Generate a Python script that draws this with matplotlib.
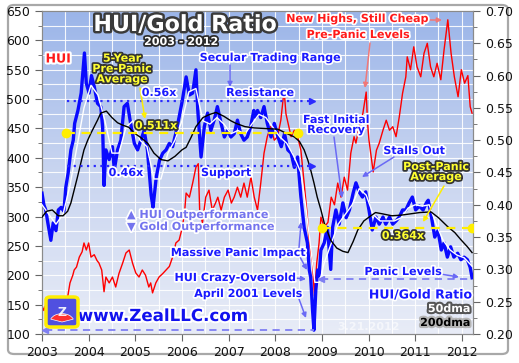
import numpy as np
import matplotlib
matplotlib.use('Agg')
import matplotlib.pyplot as plt
import matplotlib.patheffects as pe
from matplotlib.patches import FancyBboxPatch, Wedge
from matplotlib.ticker import MultipleLocator, FormatStrFormatter
from matplotlib.colors import LinearSegmentedColormap

# ---------------- data (decimal years) ----------------
ratio_x = [2003.00, 2003.04, 2003.08, 2003.13, 2003.19, 2003.24, 2003.30, 2003.35, 2003.41, 2003.47,
           2003.51, 2003.56, 2003.62, 2003.67, 2003.70, 2003.77, 2003.84, 2003.91, 2003.95, 2004.01,
           2004.06, 2004.12, 2004.19, 2004.26, 2004.30, 2004.33, 2004.37, 2004.44, 2004.51, 2004.55,
           2004.62, 2004.69, 2004.76, 2004.83, 2004.90, 2004.98, 2005.05, 2005.12, 2005.19, 2005.26,
           2005.30, 2005.34, 2005.38, 2005.45, 2005.52, 2005.59, 2005.66, 2005.73, 2005.80, 2005.87,
           2005.94, 2006.01, 2006.09, 2006.16, 2006.23, 2006.30, 2006.34, 2006.41, 2006.48, 2006.55,
           2006.62, 2006.69, 2006.76, 2006.84, 2006.91, 2006.98, 2007.05, 2007.12, 2007.19, 2007.26,
           2007.33, 2007.40, 2007.47, 2007.54, 2007.58, 2007.62, 2007.69, 2007.76, 2007.83, 2007.91,
           2007.98, 2008.06, 2008.13, 2008.20, 2008.27, 2008.34, 2008.41, 2008.48, 2008.55, 2008.62,
           2008.69, 2008.73, 2008.76, 2008.80, 2008.83, 2008.87, 2008.91, 2008.94, 2008.98, 2009.05,
           2009.12, 2009.19, 2009.23, 2009.30, 2009.37, 2009.45, 2009.52, 2009.59, 2009.67, 2009.73,
           2009.80, 2009.87, 2009.94, 2010.01, 2010.08, 2010.16, 2010.23, 2010.31, 2010.37, 2010.45,
           2010.52, 2010.59, 2010.66, 2010.73, 2010.80, 2010.87, 2010.94, 2011.01, 2011.09, 2011.17,
           2011.24, 2011.28, 2011.35, 2011.42, 2011.49, 2011.56, 2011.62, 2011.69, 2011.76, 2011.83,
           2011.91, 2011.98, 2012.05, 2012.12, 2012.18, 2012.22]
ratio_y = [0.418, 0.400, 0.392, 0.370, 0.345, 0.372, 0.360, 0.392, 0.396, 0.390,
           0.427, 0.449, 0.485, 0.500, 0.526, 0.546, 0.573, 0.635, 0.588, 0.573,
           0.600, 0.583, 0.557, 0.552, 0.520, 0.430, 0.485, 0.470, 0.490, 0.454,
           0.485, 0.500, 0.552, 0.557, 0.526, 0.495, 0.485, 0.500, 0.515, 0.485,
           0.450, 0.415, 0.396, 0.443, 0.469, 0.480, 0.485, 0.495, 0.490, 0.511,
           0.536, 0.562, 0.598, 0.570, 0.573, 0.609, 0.546, 0.474, 0.521, 0.542,
           0.515, 0.531, 0.552, 0.526, 0.505, 0.515, 0.505, 0.510, 0.531, 0.510,
           0.500, 0.505, 0.520, 0.546, 0.535, 0.546, 0.535, 0.552, 0.526, 0.505,
           0.526, 0.505, 0.490, 0.510, 0.485, 0.480, 0.458, 0.474, 0.412, 0.365,
           0.341, 0.299, 0.288, 0.237, 0.206, 0.268, 0.299, 0.290, 0.330, 0.341,
           0.365, 0.300, 0.365, 0.392, 0.370, 0.403, 0.380, 0.392, 0.418, 0.434,
           0.420, 0.412, 0.420, 0.392, 0.361, 0.381, 0.370, 0.381, 0.370, 0.381,
           0.370, 0.375, 0.381, 0.392, 0.392, 0.403, 0.412, 0.392, 0.398, 0.392,
           0.403, 0.407, 0.381, 0.350, 0.360, 0.330, 0.341, 0.319, 0.335, 0.319,
           0.325, 0.315, 0.319, 0.315, 0.303, 0.287]

hui_x = [2003.00, 2003.04, 2003.08, 2003.13, 2003.19, 2003.25, 2003.32, 2003.40, 2003.48, 2003.55,
         2003.60, 2003.66, 2003.69, 2003.74, 2003.80, 2003.86, 2003.90, 2003.95, 2004.00, 2004.05,
         2004.12, 2004.18, 2004.22, 2004.28, 2004.33, 2004.37, 2004.44, 2004.51, 2004.58, 2004.65,
         2004.73, 2004.80, 2004.87, 2004.94, 2005.01, 2005.08, 2005.15, 2005.22, 2005.29, 2005.33,
         2005.37, 2005.44, 2005.51, 2005.59, 2005.66, 2005.73, 2005.80, 2005.87, 2005.94, 2006.01,
         2006.06, 2006.09, 2006.16, 2006.23, 2006.30, 2006.35, 2006.38, 2006.44, 2006.51, 2006.58,
         2006.65, 2006.72, 2006.77, 2006.84, 2006.91, 2006.99, 2007.06, 2007.12, 2007.19, 2007.26,
         2007.33, 2007.40, 2007.44, 2007.48, 2007.55, 2007.62, 2007.69, 2007.76, 2007.83, 2007.90,
         2007.98, 2008.05, 2008.12, 2008.19, 2008.23, 2008.34, 2008.41, 2008.48, 2008.55, 2008.62,
         2008.69, 2008.73, 2008.80, 2008.84, 2008.89, 2008.94, 2008.98, 2009.05, 2009.13, 2009.20,
         2009.27, 2009.34, 2009.41, 2009.48, 2009.55, 2009.62, 2009.69, 2009.73, 2009.80, 2009.88,
         2009.95, 2009.98, 2010.01, 2010.10, 2010.17, 2010.23, 2010.31, 2010.38, 2010.45, 2010.52,
         2010.59, 2010.66, 2010.73, 2010.80, 2010.83, 2010.90, 2010.97, 2011.04, 2011.12, 2011.19,
         2011.26, 2011.33, 2011.40, 2011.47, 2011.55, 2011.62, 2011.70, 2011.77, 2011.84, 2011.92,
         2011.99, 2012.06, 2012.13, 2012.18, 2012.22]
hui_y = [148, 140, 150, 135, 130, 140, 145, 150, 158, 163,
         187, 200, 209, 214, 231, 240, 255, 243, 255, 231,
         235, 225, 221, 209, 172, 197, 187, 197, 180, 203,
         221, 238, 243, 221, 204, 197, 209, 200, 180, 187,
         170, 187, 197, 203, 209, 215, 231, 255, 260, 282,
         311, 340, 333, 357, 384, 390, 311, 289, 333, 345,
         311, 323, 333, 311, 333, 345, 323, 333, 350, 333,
         357, 333, 350, 367, 333, 311, 357, 408, 436, 453,
         430, 436, 464, 515, 475, 436, 447, 436, 413, 357,
         299, 255, 221, 165, 221, 255, 299, 282, 290, 333,
         320, 357, 333, 367, 345, 408, 436, 425, 453, 476,
         512, 459, 430, 376, 413, 425, 447, 464, 447, 453,
         436, 470, 510, 538, 572, 550, 589, 555, 538, 578,
         595, 555, 538, 561, 533, 584, 635, 578, 538, 504,
         550, 527, 540, 487, 476]

ma50_x = [2003.00, 2003.15, 2003.30, 2003.45, 2003.60, 2003.75, 2003.90, 2004.05, 2004.20, 2004.35,
          2004.50, 2004.65, 2004.80, 2004.95, 2005.10, 2005.25, 2005.40, 2005.55, 2005.70, 2005.85,
          2006.00, 2006.15, 2006.30, 2006.45, 2006.60, 2006.75, 2006.90, 2007.05, 2007.20, 2007.35,
          2007.50, 2007.65, 2007.80, 2007.95, 2008.10, 2008.25, 2008.40, 2008.55, 2008.65, 2008.75,
          2008.85, 2008.95, 2009.05, 2009.20, 2009.35, 2009.50, 2009.65, 2009.80, 2009.95, 2010.10,
          2010.25, 2010.40, 2010.55, 2010.70, 2010.85, 2011.00, 2011.15, 2011.30, 2011.45, 2011.60,
          2011.75, 2011.90, 2012.05, 2012.22]
ma50_y = [0.400, 0.385, 0.370, 0.385, 0.430, 0.490, 0.550, 0.585, 0.570, 0.530,
          0.480, 0.480, 0.520, 0.530, 0.500, 0.490, 0.440, 0.440, 0.480, 0.500,
          0.530, 0.575, 0.580, 0.530, 0.525, 0.535, 0.525, 0.510, 0.515, 0.510,
          0.525, 0.540, 0.535, 0.520, 0.505, 0.495, 0.475, 0.450, 0.400, 0.340,
          0.280, 0.280, 0.310, 0.340, 0.370, 0.385, 0.400, 0.425, 0.415, 0.385,
          0.375, 0.375, 0.375, 0.380, 0.395, 0.400, 0.398, 0.400, 0.370, 0.345,
          0.330, 0.322, 0.318, 0.305]

ma200_x = [2003.00, 2003.10, 2003.22, 2003.35, 2003.45, 2003.55, 2003.62, 2003.69, 2003.76, 2003.83,
           2003.90, 2003.98, 2004.05, 2004.12, 2004.19, 2004.26, 2004.38, 2004.50, 2004.62, 2004.74,
           2004.86, 2004.98, 2005.12, 2005.27, 2005.40, 2005.55, 2005.70, 2005.85, 2006.00, 2006.09,
           2006.20, 2006.30, 2006.45, 2006.60, 2006.73, 2006.90, 2007.05, 2007.16, 2007.35, 2007.55,
           2007.80, 2008.06, 2008.20, 2008.41, 2008.52, 2008.62, 2008.70, 2008.76, 2008.83, 2008.90,
           2008.98, 2009.05, 2009.19, 2009.32, 2009.45, 2009.56, 2009.67, 2009.77, 2009.90, 2010.05,
           2010.15, 2010.30, 2010.50, 2010.70, 2010.90, 2011.10, 2011.34, 2011.50, 2011.70, 2011.85,
           2011.98, 2012.12, 2012.22]
ma200_y = [0.381, 0.390, 0.392, 0.383, 0.383, 0.390, 0.403, 0.423, 0.443, 0.464,
           0.485, 0.500, 0.511, 0.521, 0.531, 0.542, 0.545, 0.535, 0.527, 0.523,
           0.520, 0.511, 0.504, 0.495, 0.480, 0.470, 0.468, 0.475, 0.485, 0.489,
           0.505, 0.521, 0.535, 0.540, 0.543, 0.537, 0.530, 0.526, 0.521, 0.519,
           0.518, 0.517, 0.512, 0.505, 0.498, 0.485, 0.469, 0.454, 0.434, 0.412,
           0.392, 0.372, 0.345, 0.333, 0.328, 0.326, 0.343, 0.361, 0.375, 0.383,
           0.388, 0.386, 0.383, 0.384, 0.386, 0.388, 0.389, 0.380, 0.366, 0.357,
           0.346, 0.335, 0.326]

# reference levels (ratio) and their spans in years
resistance = 0.56
support = 0.46
range_span = [2003.54, 2008.78]
pre_avg = 0.511
pre_avg_span = [2003.51, 2008.49]
post_avg = 0.364
post_avg_span = [2009.00, 2012.21]
panic_low = 0.206
panic_low_span = [2003.06, 2008.83]
panic_levels = 0.285
panic_levels_span = [2008.99, 2012.20]

years = list(range(2003, 2013))
hui_ticks = list(range(100, 651, 50))
ratio_ticks = [0.20, 0.25, 0.30, 0.35, 0.40, 0.45, 0.50, 0.55, 0.60, 0.65, 0.70]

# ---------------- figure ----------------
W, H = 519, 363
fig = plt.figure(figsize=(W / 100, H / 100), dpi=100)
fig.patch.set_facecolor('white')
plt.rcParams['font.family'] = ['DejaVu Sans']

L, R, T, B = 42, 473, 11, 334
ax = fig.add_axes([L / W, 1 - B / H, (R - L) / W, (B - T) / H])

# outer frame
frame = FancyBboxPatch((8 / W, 1 - 354 / H), 500 / W, 349 / H,
                       boxstyle='round,pad=0,rounding_size=0.012',
                       transform=fig.transFigure, fc='none', ec='#a8a8a8', lw=1.6, zorder=-5)
fig.add_artist(frame)

# background gradient
cmap = LinearSegmentedColormap.from_list('bg', ['#e8ecf7', '#c9d5f0', '#9bb5e9'])
grad = np.linspace(0, 1, 256).reshape(-1, 1)
ax.imshow(grad, extent=[0, 1, 0, 1], transform=ax.transAxes, aspect='auto',
          cmap=cmap, origin='lower', zorder=0)

ax.set_xlim(2003.0, 2012.24)
ax.set_ylim(100, 650)
ax.set_axisbelow(True)
ax.xaxis.set_major_locator(MultipleLocator(1))
ax.xaxis.set_minor_locator(MultipleLocator(0.5))
ax.yaxis.set_major_locator(MultipleLocator(50))
ax.yaxis.set_minor_locator(MultipleLocator(25))
ax.set_xticks(years)
ax.set_xticklabels([str(y) for y in years])
ax.grid(which='both', color='white', lw=0.8, alpha=0.9)
ax.tick_params(axis='x', which='minor', length=0)
ax.tick_params(axis='both', which='major', direction='out', length=5, color='#666666',
               labelsize=9, labelcolor='#111111')
ax.tick_params(axis='y', which='minor', direction='out', length=3, color='#666666')
for s in ax.spines.values():
    s.set_color('#8a8a8a')

# red HUI on left axis
ax.plot(hui_x, hui_y, color='#ff0000', lw=1.0, zorder=2)

ax2 = ax.twinx()
ax2.set_ylim(0.2, 0.7)
ax2.yaxis.set_major_locator(MultipleLocator(0.05))
ax2.yaxis.set_minor_locator(MultipleLocator(0.025))
ax2.yaxis.set_major_formatter(FormatStrFormatter('%.2f'))
ax2.tick_params(axis='y', which='major', direction='out', length=5, color='#666666',
                labelsize=9, labelcolor='#111111')
ax2.tick_params(axis='y', which='minor', direction='out', length=3, color='#666666')
for s in ax2.spines.values():
    s.set_color('#8a8a8a')
ax2.set_xlim(2003.0, 2012.24)

# ratio series
ax2.plot(ratio_x, ratio_y, color='#0a0aff', lw=2.4, zorder=3, solid_joinstyle='round')
ax2.plot(ma50_x, ma50_y, color='white', lw=1.0, zorder=4)
ax2.plot(ma200_x, ma200_y, color='black', lw=1.0, zorder=4)

# reference level lines
dot_c = '#2b2bff'
for lev in (resistance, support):
    ax2.plot(range_span, [lev, lev], color=dot_c, lw=1.6, ls=(0, (1, 2)), zorder=5)
    ax2.plot([range_span[1]], [lev], marker='>', color=dot_c, ms=4, zorder=5)
ax2.plot(pre_avg_span, [pre_avg, pre_avg], color='#ffee00', lw=1.6, ls=(0, (4, 3)), zorder=5)
ax2.plot(pre_avg_span, [pre_avg, pre_avg], 'o', color='#ffee00', ms=6, zorder=6)
ax2.plot(post_avg_span, [post_avg, post_avg], color='#ffee00', lw=1.6, ls=(0, (4, 3)), zorder=5)
ax2.plot(post_avg_span, [post_avg, post_avg], 'o', color='#ffee00', ms=6, zorder=6)
lav = '#7f7ff2'
ax2.plot(panic_low_span, [panic_low, panic_low], color=lav, lw=1.3, ls=(0, (4, 3)), zorder=5)
ax2.plot([panic_low_span[0]], [panic_low], marker='<', color=lav, ms=4, zorder=5)
ax2.plot(panic_levels_span, [panic_levels, panic_levels], color=lav, lw=1.3, ls=(0, (4, 3)), zorder=5)
ax2.plot([panic_levels_span[0]], [panic_levels], marker='<', color=lav, ms=4, zorder=5)


# ---------------- annotations ----------------
def label(px, py, s, color, size, stroke='white', sw=2.5, ha='center', weight='bold',
          ls=1.0, alpha=1.0):
    t = fig.text(px / W, 1 - py / H, s, color=color, fontsize=size, ha=ha, va='center',
                 weight=weight, linespacing=ls, alpha=alpha, zorder=10)
    if stroke is not None:
        t.set_path_effects([pe.withStroke(linewidth=sw, foreground=stroke)])
    return t


def arrow(p0, p1, color, lw=1.1):
    ax2.annotate('', xy=(p1[0], H - p1[1]), xycoords='figure pixels',
                 xytext=(p0[0], H - p0[1]), textcoords='figure pixels',
                 arrowprops=dict(arrowstyle='-|>', color=color, lw=lw, mutation_scale=7,
                                 shrinkA=0, shrinkB=0), zorder=9)


blue = '#1a1aff'
yel = '#ffff30'
red = '#ff1a1a'
arr_blue = '#6a6af5'

label(185, 25, 'HUI/Gold Ratio', 'white', 16, stroke='#3a3a3a', sw=3.5)
label(181, 42, '2003 - 2012', 'white', 8, stroke='#2a2a2a', sw=2.5)
label(58, 59, 'HUI', red, 9, stroke='white', sw=3)

label(122, 69, '5-Year\nPre-Panic\nAverage', yel, 8, stroke='#333333', sw=2.5, ls=1.05)
arrow((140, 88), (145, 119), '#ffee00')
label(159, 93, '0.56x', blue, 8)
label(270, 58, 'Secular Trading Range', blue, 8)
arrow((230, 65), (230, 87), arr_blue)
label(260, 93, 'Resistance', blue, 8)
label(156, 126, '0.511x', yel, 8, stroke='#333333', sw=2.5)
label(126, 173, '0.46x', blue, 8)
label(226, 173, 'Support', blue, 8)

label(127, 215, '\u25B2 HUI Outperformance', '#7474ee', 8, ha='left')
label(127, 227, '\u25BC Gold Outperformance', '#7474ee', 8, ha='left')

label(238, 253, 'Massive Panic Impact', blue, 8)
label(235, 278, 'HUI Crazy-Oversold', blue, 8)
label(248, 294, 'April 2001 Levels', blue, 8)
arrow((299, 248), (301, 222), arr_blue)
arrow((300, 257), (307, 270), arr_blue)
arrow((294, 278), (306, 279), arr_blue)
arrow((299, 299), (306, 318), arr_blue)

label(369, 327, '3.21.2012', 'white', 8, stroke=None, alpha=0.6)

label(403, 272, 'Panic Levels', blue, 8)
arrow((440, 274), (459, 277), arr_blue)
label(420, 295, 'HUI/Gold Ratio', blue, 9)
label(470, 309, '50dma', 'white', 8, stroke='#555555', sw=3, ha='right')
label(470, 323, '200dma', 'black', 8, stroke='#b5b5b5', sw=3, ha='right')

label(357, 19, 'New Highs, Still Cheap', red, 8)
arrow((424, 20), (442, 20), '#f07878')
label(358, 35, 'Pre-Panic Levels', red, 8)
arrow((370, 43), (365, 88), '#f07878')

label(336, 125, 'Fast Initial\nRecovery', blue, 8, ls=1.0)
arrow((334, 137), (342, 198), arr_blue)
label(414, 151, 'Stalls Out', blue, 8)
arrow((394, 157), (362, 177), arr_blue)
label(436, 172, 'Post-Panic\nAverage', yel, 8, stroke='#333333', sw=2.5, ls=1.0)
arrow((444, 186), (423, 222), '#ffee00')
label(403, 236, '0.364x', yel, 8, stroke='#333333', sw=2.5)

label(163, 316, 'www.ZealLLC.com', '#1212ee', 12, stroke='white', sw=3)

# logo
logo = FancyBboxPatch((46 / W, 1 - 327 / H), 32 / W, 30 / H,
                      boxstyle='round,pad=0,rounding_size=0.008', transform=fig.transFigure,
                      fc='#5050e0', ec='#ffee00', lw=2.5, zorder=11)
fig.add_artist(logo)
fan = Wedge((62 / W, 1 - 322 / H), 12 / W, 20, 160, transform=fig.transFigure,
            fc='#ff3030', ec='white', lw=0.5, zorder=12)
fig.add_artist(fan)
fig.text(62 / W, 1 - 312 / H, 'Z', color='white', fontsize=9, weight='bold',
         ha='center', va='center', zorder=13, alpha=0.9)

fig.savefig('out.png', dpi=100, facecolor='white')
